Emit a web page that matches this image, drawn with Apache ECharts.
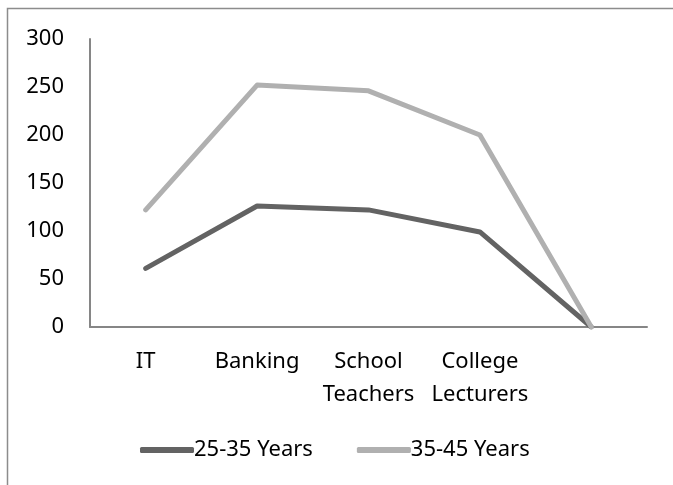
<!DOCTYPE html>
<html>
<head>
<meta charset="utf-8">
<script src="https://cdn.jsdelivr.net/npm/echarts@6/dist/echarts.min.js"></script>
<style>
  html, body { margin: 0; padding: 0; background: #fff; }
  #main { width: 673px; height: 485px; }
</style>
</head>
<body>
<div id="main"></div>
<script>
var categories = ['IT', 'Banking', 'School\nTeachers', 'College\nLecturers', ''];
var seriesNames = ['25-35 Years', '35-45 Years'];
var young = [61, 126, 122, 99, 0];
var older = [122, 252, 246, 200, 0];
var yTicks = [0, 50, 100, 150, 200, 250, 300];

var font = 'Noto Sans';
var chart = echarts.init(document.getElementById('main'), null, { renderer: 'canvas' });

var option = {
  backgroundColor: '#fff',
  animation: false,
  graphic: [
    {
      type: 'rect',
      shape: { x: 7.5, y: 8.5, width: 700, height: 520 },
      style: { fill: 'none', stroke: '#8c8c8c', lineWidth: 1.5 },
      silent: true
    }
  ],
  grid: { left: 90, right: 26, top: 39, bottom: 158 },
  legend: {
    bottom: 19,
    left: 135,
    itemWidth: 54,
    itemHeight: 6,
    itemGap: 44,
    textStyle: { fontFamily: font, fontSize: 22, color: '#000', padding: [0, 0, 0, -5] },
    data: seriesNames.map(function (n) { return { name: n, icon: 'roundRect' }; })
  },
  xAxis: {
    type: 'category',
    data: categories,
    boundaryGap: true,
    axisLine: { lineStyle: { color: '#868686', width: 2 } },
    axisTick: { show: false },
    axisLabel: {
      interval: 0,
      margin: 18,
      fontFamily: font,
      fontSize: 22,
      color: '#000',
      lineHeight: 33
    }
  },
  yAxis: {
    type: 'value',
    min: yTicks[0],
    max: yTicks[yTicks.length - 1],
    interval: 50,
    splitLine: { show: false },
    axisLine: { show: true, lineStyle: { color: '#868686', width: 2 } },
    axisTick: { show: false },
    axisLabel: { margin: 26, fontFamily: font, fontSize: 22, color: '#000' }
  },
  series: [
    {
      name: seriesNames[0],
      type: 'line',
      data: young,
      symbol: 'none',
      color: '#636363',
      lineStyle: { width: 5, color: '#636363', cap: 'round', join: 'round' }
    },
    {
      name: seriesNames[1],
      type: 'line',
      data: older,
      symbol: 'none',
      color: '#b0b0b0',
      lineStyle: { width: 5, color: '#b0b0b0', cap: 'round', join: 'round' }
    }
  ]
};

chart.setOption(option);
</script>
</body>
</html>
